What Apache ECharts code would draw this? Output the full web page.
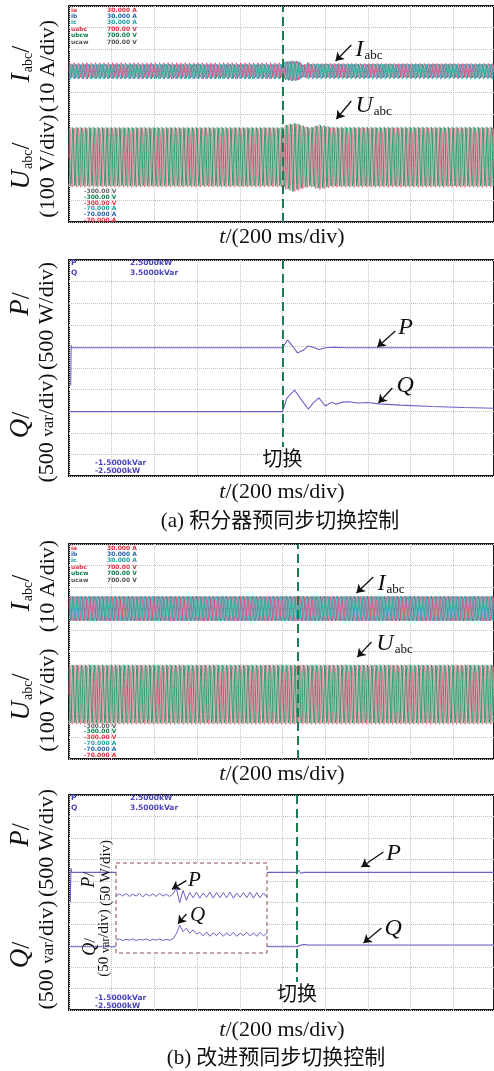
<!DOCTYPE html>
<html>
<head>
<meta charset="utf-8">
<script src="https://cdn.jsdelivr.net/npm/echarts@6/dist/echarts.min.js"></script>
<style>
html, body { margin: 0; padding: 0; background: #fff; }
#main { width: 494px; height: 1071px; }
</style>
</head>
<body>
<div id="main"></div>
<script>
// 时间轴 (s)，200 ms/div，共约 10 格
var T_END = 1.99;
var F0 = 50;        // 电网频率
var DT = 0.0008;    // 采样间隔

// 切换时刻
var switchA = 1.0;
var switchB = 1.068;

// (a) 电流、电压包络幅值（从示波器图上读取）
var envTimeIA = [0, 1.0, 1.01, 1.05, 1.08, 1.10, 1.12, 1.99];
var envAmpIA  = [3.9, 3.9, 4.6, 4.9, 4.6, 3.5, 4.0, 4.0];
var envTimeUA = [0, 1.0, 1.02, 1.06, 1.10, 1.13, 1.17, 1.20, 1.23, 1.99];
var envAmpUA  = [141, 141, 155, 162, 148, 140, 153, 148, 142, 142];
// (b)
var envTimeIB = [0, 1.99];
var envAmpIB  = [5.8, 5.8];
var envTimeUB = [0, 1.99];
var envAmpUB  = [141, 141];

// (a) 有功 P (kW)、无功 Q (kvar)
var pTimeA = [0.008, 0.010, 0.014, 0.3, 0.6, 1.0, 1.023, 1.045, 1.07, 1.10, 1.12, 1.15, 1.17, 1.20, 1.24, 1.30, 1.45, 1.60, 1.80, 1.99];
var pValA  = [-0.40, 0.52, 0.47, 0.47, 0.47, 0.47, 0.65, 0.52, 0.35, 0.42, 0.51, 0.47, 0.43, 0.47, 0.48, 0.47, 0.47, 0.47, 0.47, 0.47];
var qTimeA = [0, 1.0, 1.02, 1.056, 1.09, 1.12, 1.145, 1.17, 1.20, 1.23, 1.25, 1.28, 1.31, 1.35, 1.40, 1.45, 1.55, 1.70, 1.85, 1.99];
var qValA  = [-0.01, -0.01, 0.30, 0.49, 0.25, 0.05, 0.20, 0.31, 0.12, 0.21, 0.16, 0.21, 0.22, 0.19, 0.20, 0.17, 0.14, 0.11, 0.085, 0.07];

// (b) 有功 P (kW)、无功 Q (kvar)
var pTimeB = [0.006, 0.009, 0.013, 0.5, 1.068, 1.075, 1.085, 1.10, 1.5, 1.99];
var pValB  = [0.0, 0.80, 0.70, 0.70, 0.70, 0.75, 0.68, 0.70, 0.70, 0.70];
var qTimeB = [0, 1.0, 1.068, 1.08, 1.10, 1.12, 1.2, 1.5, 1.99];
var qValB  = [-0.03, -0.03, -0.03, 0.0, 0.03, 0.01, 0.01, 0.01, 0.01];

// (b) 局部放大：P (W)、Q (var)，采样起点 0.87 s，间隔 0.0111 s
var insetT0 = 0.87, insetDT = 0.0111;
var insetP = [697, 703, 698, 704, 697, 702, 698, 704, 696, 703, 698, 703, 697, 704, 698, 702, 697, 703,
              716, 682, 711, 688,
              706, 694, 707, 693, 705, 695, 707, 693, 706, 694, 706, 694, 707, 693, 705, 695, 706, 694, 707, 693, 706, 694, 705, 695];
var insetQ = [-30, -27, -31, -28, -30, -27, -31, -28, -30, -27, -31, -28, -30, -27, -31, -28, -30, -27,
              -15, 5, -10, -2, -14, -6, -16,
              -12, -20, -11, -21, -13, -19, -12, -21, -13, -20, -12, -21, -14, -19, -12, -20, -13, -21, -12, -20, -14];

// 示波器通道刻度文字
var chanNames  = ['ia', 'ib', 'ic', 'uabc', 'ubcw', 'ucaw'];
var chanTop    = ['30.000 A', '30.000 A', '30.000 A', '700.00 V', '700.00 V', '700.00 V'];
var chanBottom = ['-300.00 V', '-300.00 V', '-300.00 V', '-70.000 A', '-70.000 A', '-70.000 A'];
var pqNames  = ['P', 'Q'];
var pqTop    = ['2.5000kW', '3.5000kVar'];
var pqBottom = ['-1.5000kVar', '-2.5000kW'];

var SERIF = '"Liberation Serif", "Noto Sans CJK SC", serif';
var cIa = '#e2506a', cIb = '#3d6f9e', cIc = '#2fb0b0';
var cUa = '#e07382', cUb = '#1d9466', cUc = '#c4c4c4';
var chanColTop = ['#e03040', '#2a64a8', '#1f9f9f', '#e03848', '#11804f', '#555555'];
var chanColBot = ['#666666', '#11804f', '#e03848', '#1f9f9f', '#2a64a8', '#e03040'];
var cPQ = '#6a62c6';
var cSwitch = '#1e7b52';

function zip(ts, vs) { return ts.map(function (t, i) { return [t, vs[i]]; }); }

function envAt(ts, amps, t) {
    for (var i = 1; i < ts.length; i++) {
        if (t <= ts[i]) {
            var r = (t - ts[i - 1]) / (ts[i] - ts[i - 1]);
            return amps[i - 1] + r * (amps[i] - amps[i - 1]);
        }
    }
    return amps[amps.length - 1];
}

// 50 Hz 三相波形，幅值取自包络
function wave(ts, amps, deg) {
    var out = [];
    var n = Math.round(T_END / DT);
    for (var k = 0; k <= n; k++) {
        var t = k * DT;
        out.push([t, envAt(ts, amps, t) * Math.sin(2 * Math.PI * F0 * t + deg * Math.PI / 180)]);
    }
    return out;
}

var insetData = function (vals) {
    return vals.map(function (v, k) { return [insetT0 + k * insetDT, v]; });
};

// 布局
var panels = [
    { top: 6, height: 216 },
    { top: 260, height: 216 },
    { top: 544, height: 215 },
    { top: 795, height: 215 }
];
var inset = { left: 116, top: 863, width: 151, height: 90 };

var grids = panels.map(function (p) {
    return { left: 69, top: p.top, width: 426, height: p.height, show: true,
             borderColor: '#1a1a1a', borderWidth: 2, backgroundColor: 'transparent' };
});
grids.push({ left: inset.left, top: inset.top, width: inset.width, height: inset.height, show: false });

var dotted = { show: true, lineStyle: { color: '#c4c4c4', type: 'dotted', width: 1 } };
function xAx(gi) {
    return { type: 'value', gridIndex: gi, min: 0, max: T_END, interval: 0.2,
             axisLine: { show: false }, axisTick: { show: false }, axisLabel: { show: false }, splitLine: dotted };
}
function yAx(gi, min, max, interval, grid) {
    return { type: 'value', gridIndex: gi, min: min, max: max, interval: interval,
             axisLine: { show: false }, axisTick: { show: false }, axisLabel: { show: false },
             splitLine: grid ? dotted : { show: false } };
}

var xAxes = [xAx(0), xAx(1), xAx(2), xAx(3),
    { type: 'value', gridIndex: 4, min: 0.87, max: 1.37, show: false, splitLine: { show: false } }];
var yAxes = [
    yAx(0, -70, 30, 10, true), yAx(0, -300, 700, 100, false),
    yAx(1, -2.5, 2.5, 0.5, true), yAx(1, -1.5, 3.5, 0.5, false),
    yAx(2, -70, 30, 10, true), yAx(2, -300, 700, 100, false),
    yAx(3, -2.5, 2.5, 0.5, true), yAx(3, -1.5, 3.5, 0.5, false),
    { type: 'value', gridIndex: 4, min: 565, max: 775, show: false, splitLine: { show: false } },
    { type: 'value', gridIndex: 4, min: -60, max: 150, show: false, splitLine: { show: false } }
];

function lineS(xi, yi, data, color, width, z) {
    return { type: 'line', xAxisIndex: xi, yAxisIndex: yi, data: data, symbol: 'none', showSymbol: false,
             silent: true, progressive: 0, z: z || 2,
             lineStyle: { color: color, width: width }, emphasis: { disabled: true } };
}

var annRich = {
    i: { fontFamily: SERIF, fontStyle: 'italic', fontSize: 24, color: '#111', verticalAlign: 'bottom' },
    s: { fontFamily: SERIF, fontSize: 13, color: '#111', verticalAlign: 'bottom', padding: [13, 0, 0, 1] }
};
var annRichSmall = {
    i: { fontFamily: SERIF, fontStyle: 'italic', fontSize: 21, color: '#111' }
};

function annS(xi, yi, tail, head, at, fmt, rich, z) {
    return {
        type: 'line', xAxisIndex: xi, yAxisIndex: yi, data: [], silent: true, z: z || 6,
        markLine: { silent: true, animation: false, symbol: ['none', 'arrow'], symbolSize: 8,
                    lineStyle: { color: '#111', width: 1.3, type: 'solid' }, label: { show: false },
                    emphasis: { disabled: true },
                    data: [[{ coord: tail }, { coord: head }]] },
        markPoint: { silent: true, animation: false, symbol: 'circle', symbolSize: 0,
                     itemStyle: { color: 'transparent' },
                     label: { show: true, position: 'right', distance: 0, formatter: fmt, rich: rich },
                     data: [{ coord: at }] }
    };
}

function switchS(xi, yi, mlData, z) {
    return {
        type: 'line', xAxisIndex: xi, yAxisIndex: yi, data: [], silent: true, z: z || 7,
        markLine: { silent: true, animation: false, symbol: 'none',
                    lineStyle: { color: cSwitch, width: 2, type: [9, 5] },
                    label: { show: true, position: 'end', distance: 4, formatter: '切换',
                             color: '#111', fontSize: 20, fontFamily: SERIF },
                    emphasis: { disabled: true },
                    data: mlData }
    };
}

var series = [
    // (a) 电流、电压
    lineS(0, 1, wave(envTimeUA, envAmpUA, 240), cUc, 0.9),
    lineS(0, 1, wave(envTimeUA, envAmpUA, 0), cUa, 0.9),
    lineS(0, 1, wave(envTimeUA, envAmpUA, 120), cUb, 0.9),
    lineS(0, 0, wave(envTimeIA, envAmpIA, 120), cIb, 0.9),
    lineS(0, 0, wave(envTimeIA, envAmpIA, 0), cIa, 0.9),
    lineS(0, 0, wave(envTimeIA, envAmpIA, 240), cIc, 0.9),
    switchS(0, 0, [{ xAxis: switchA, label: { show: false } }]),
    annS(0, 0, [1.322, 11.94], [1.248, 4.54], [1.341, 10.1], '{i|I}{s|abc}', annRich),
    annS(0, 1, [1.322, 260], [1.252, 177], [1.341, 242], '{i|U}{s|abc}', annRich),

    // (a) P、Q
    lineS(1, 2, zip(pTimeA, pValA), cPQ, 1.1),
    lineS(1, 3, zip(qTimeA, qValA), cPQ, 1.1),
    switchS(1, 2, [[{ coord: [switchA, 2.5] }, { coord: [switchA, -1.83] }]]),
    annS(1, 2, [1.528, 0.856], [1.444, 0.486], [1.542, 0.926], '{i|P}', annRich),
    annS(1, 3, [1.514, 0.537], [1.449, 0.19], [1.533, 0.583], '{i|Q}', annRich),

    // (b) 电流、电压
    lineS(2, 5, wave(envTimeUB, envAmpUB, 240), cUc, 0.9),
    lineS(2, 5, wave(envTimeUB, envAmpUB, 0), cUa, 0.9),
    lineS(2, 5, wave(envTimeUB, envAmpUB, 120), cUb, 0.9),
    lineS(2, 4, wave(envTimeIB, envAmpIB, 120), cIb, 0.9),
    lineS(2, 4, wave(envTimeIB, envAmpIB, 0), cIa, 0.9),
    lineS(2, 4, wave(envTimeIB, envAmpIB, 240), cIc, 0.9),
    switchS(2, 4, [{ xAxis: switchB, label: { show: false } }]),
    annS(2, 4, [1.425, 14.65], [1.346, 7.21], [1.444, 11.86], '{i|I}{s|abc}', annRich),
    annS(2, 5, [1.416, 244], [1.350, 174], [1.439, 239.5], '{i|U}{s|abc}', annRich),

    // (b) P、Q
    lineS(3, 6, zip(pTimeB, pValB), cPQ, 1.1),
    lineS(3, 7, zip(qTimeB, qValB), cPQ, 1.1),
    switchS(3, 6, [[{ coord: [switchB, 2.5] }, { coord: [switchB, -1.85] }]]),
    annS(3, 6, [1.472, 1.174], [1.369, 0.826], [1.486, 1.128], '{i|P}', annRich),
    annS(3, 7, [1.463, 0.407], [1.379, 0.058], [1.477, 0.384], '{i|Q}', annRich),

    // (b) 局部放大
    lineS(4, 8, insetData(insetP), cPQ, 1, 10),
    lineS(4, 9, insetData(insetQ), cPQ, 1, 10),
    annS(4, 8, [1.103, 734], [1.055, 714], [1.108, 735], '{i|P}', annRichSmall, 11),
    annS(4, 9, [1.103, 31], [1.075, 8], [1.115, 28.7], '{i|Q}', annRichSmall, 11)
];

// 文字
function gText(x, y, text, style, rotation) {
    var st = Object.assign({ text: text, fill: '#111', fontFamily: SERIF, fontSize: 20,
                             textAlign: 'center', align: 'center',
                             textVerticalAlign: 'middle', verticalAlign: 'middle' }, style || {});
    return { type: 'text', x: x, y: y, rotation: rotation || 0, z: 20, silent: true, style: st };
}
var R90 = Math.PI / 2;
var titleRich = {
    i: { fontFamily: SERIF, fontStyle: 'italic', fontSize: 27, fill: '#111', verticalAlign: 'bottom' },
    s: { fontFamily: SERIF, fontSize: 14, fill: '#111', verticalAlign: 'bottom', padding: [14, 0, 0, 1] },
    n: { fontFamily: SERIF, fontSize: 25, fill: '#111', verticalAlign: 'bottom' },
    v: { fontFamily: SERIF, fontSize: 17, fill: '#111', verticalAlign: 'bottom', padding: [0, 0, 1, 0] }
};
var titleRichSmall = {
    i: { fontFamily: SERIF, fontStyle: 'italic', fontSize: 18, fill: '#111', verticalAlign: 'bottom' },
    n: { fontFamily: SERIF, fontSize: 17, fill: '#111', verticalAlign: 'bottom' },
    v: { fontFamily: SERIF, fontSize: 12, fill: '#111', verticalAlign: 'bottom' }
};
var tRich = { i: { fontFamily: SERIF, fontStyle: 'italic', fontSize: 22, fill: '#111' } };

var G = [];
// 纵轴标题
G.push(gText(21, 64, '{i|I}{s|abc}{n|/}', { rich: titleRich }, R90));
G.push(gText(48, 66, '(10 A/div)', { fontSize: 22 }, R90));
G.push(gText(21, 166, '{i|U}{s|abc}{n|/}', { rich: titleRich }, R90));
G.push(gText(48, 166, '(100 V/div)', { fontSize: 22 }, R90));
G.push(gText(21, 304, '{i|P}{n|/}', { rich: titleRich }, R90));
G.push(gText(47, 316, '(500 W/div)', { fontSize: 22 }, R90));
G.push(gText(21, 425, '{i|Q}{n|/}', { rich: titleRich }, R90));
G.push(gText(47, 428, '(500 {v|var}/div)', { fontSize: 22, rich: titleRich }, R90));
G.push(gText(21, 593, '{i|I}{s|abc}{n|/}', { rich: titleRich }, R90));
G.push(gText(48, 586, '(10 A/div)', { fontSize: 22 }, R90));
G.push(gText(21, 697, '{i|U}{s|abc}{n|/}', { rich: titleRich }, R90));
G.push(gText(48, 700, '(100 V/div)', { fontSize: 22 }, R90));
G.push(gText(21, 835, '{i|P}{n|/}', { rich: titleRich }, R90));
G.push(gText(47, 843, '(500 W/div)', { fontSize: 22 }, R90));
G.push(gText(21, 955, '{i|Q}{n|/}', { rich: titleRich }, R90));
G.push(gText(47, 955, '(500 {v|var}/div)', { fontSize: 22, rich: titleRich }, R90));
// 局部放大纵轴标题
G.push(gText(89, 880, '{i|P}{n|/}', { rich: titleRichSmall }, R90));
G.push(gText(106, 873, '(50 W/div)', { fontSize: 15 }, R90));
G.push(gText(90, 947, '{i|Q}{n|/}', { rich: titleRichSmall }, R90));
G.push(gText(104, 943, '(50 {v|var}/div)', { fontSize: 15, rich: titleRichSmall }, R90));
// 横轴标题与图注
[237, 492, 774, 1030].forEach(function (y) {
    G.push(gText(282, y, '{i|t}/(200 ms/div)', { fontSize: 22, rich: tRich }));
});
G.push(gText(280, 521, '(a) 积分器预同步切换控制', { fontSize: 21 }));
G.push(gText(276, 1058, '(b) 改进预同步切换控制', { fontSize: 21 }));

// 示波器通道刻度
var small = { fontFamily: '"DejaVu Sans"', fontSize: 6, fontWeight: 'bold', textAlign: 'left', align: 'left' };
[[10, 191.5], [548, 726]].forEach(function (base) {
    chanNames.forEach(function (n, i) {
        var y = base[0] + i * 6.45;
        G.push(gText(71, y, n, Object.assign({}, small, { fill: chanColTop[i] })));
        G.push(gText(107, y, chanTop[i], Object.assign({}, small, { fill: chanColTop[i] })));
    });
    chanBottom.forEach(function (s, i) {
        var y = base[1] + i * 5.8;
        G.push(gText(84, y, s, Object.assign({}, small, { fill: chanColBot[i] })));
    });
});
var smallPQ = { fontFamily: '"DejaVu Sans"', fontSize: 7.5, fontWeight: 'bold', textAlign: 'left', align: 'left', fill: '#4b44b8' };
[[263.5, 463], [798.5, 998]].forEach(function (base) {
    pqNames.forEach(function (n, i) {
        var y = base[0] + i * 10;
        G.push(gText(71, y, n, smallPQ));
        G.push(gText(130, y, pqTop[i], smallPQ));
    });
    pqBottom.forEach(function (s, i) {
        G.push(gText(95, base[1] + i * 8, s, smallPQ));
    });
});
// 局部放大框
G.push({ type: 'rect', z: 5, silent: true,
         shape: { x: inset.left, y: inset.top, width: inset.width, height: inset.height },
         style: { fill: '#ffffff', stroke: '#8b4a4a', lineWidth: 1, lineDash: [4, 3] } });

var chart = echarts.init(document.getElementById('main'), null, { renderer: 'canvas' });
chart.setOption({
    backgroundColor: '#ffffff',
    animation: false,
    grid: grids,
    xAxis: xAxes,
    yAxis: yAxes,
    series: series,
    graphic: { elements: G }
});
</script>
</body>
</html>
